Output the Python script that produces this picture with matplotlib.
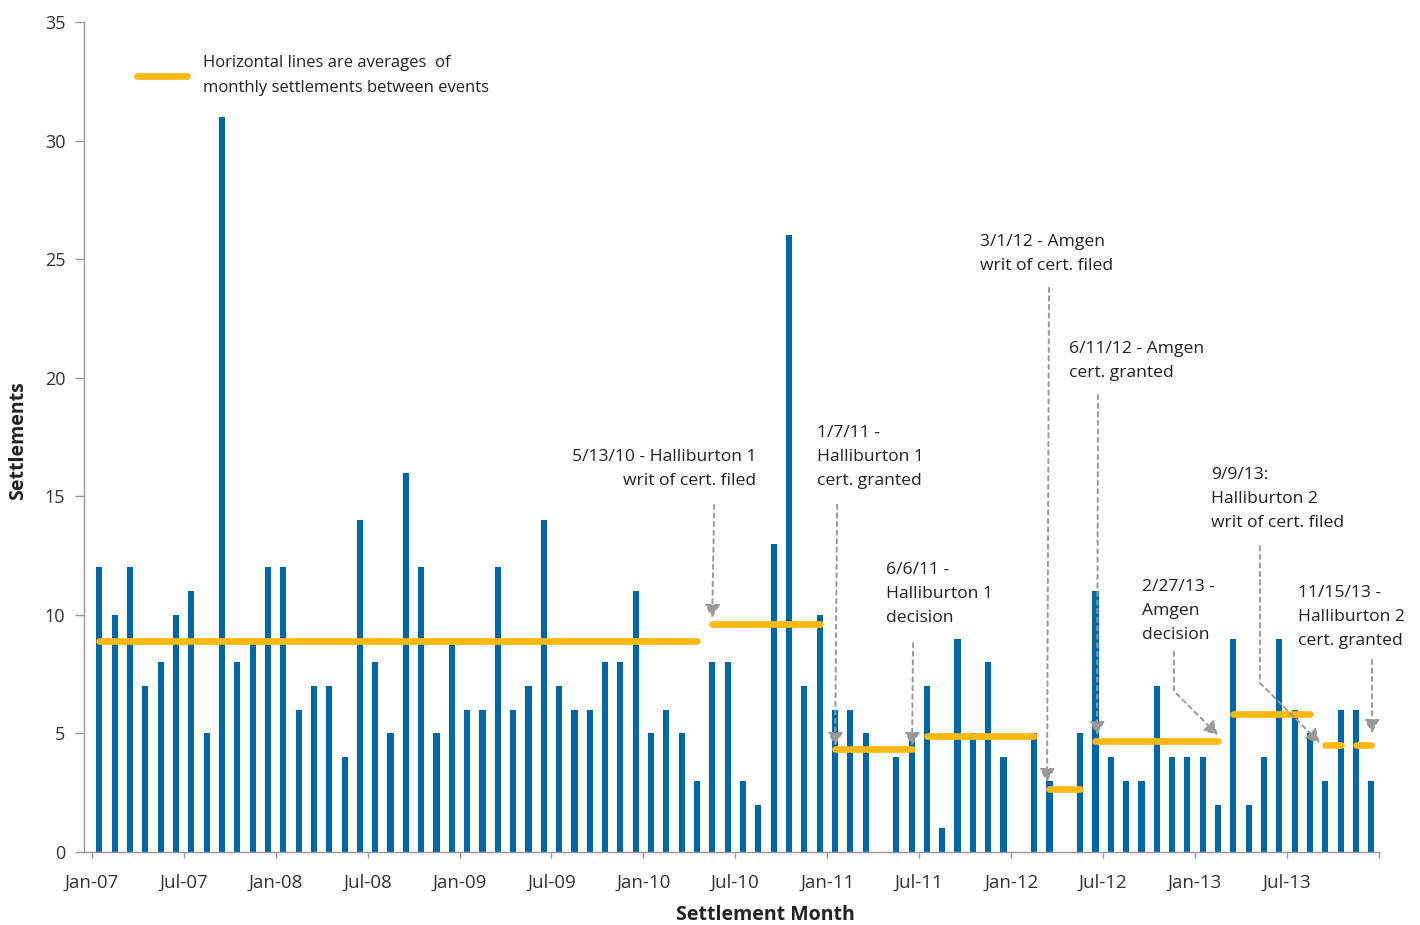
import numpy as np
import matplotlib.pyplot as plt
from matplotlib.lines import Line2D

plt.rcParams['font.family'] = ['Open Sans', 'DejaVu Sans']

# Monthly settlements, Jan-07 .. Dec-13
settlements = [12, 10, 12, 7, 8, 10, 11, 5, 31, 8, 9, 12,
               12, 6, 7, 7, 4, 14, 8, 5, 16, 12, 5, 9,
               6, 6, 12, 6, 7, 14, 7, 6, 6, 8, 8, 11,
               5, 6, 5, 3, 8, 8, 3, 2, 13, 26, 7, 10,
               6, 6, 5, 0, 4, 5, 7, 1, 9, 5, 8, 4,
               0, 5, 3, 0, 5, 11, 4, 3, 3, 7, 4, 4,
               4, 2, 9, 2, 4, 9, 6, 5, 3, 6, 6, 3]

tick_labels = ['Jan-07', 'Jul-07', 'Jan-08', 'Jul-08', 'Jan-09', 'Jul-09', 'Jan-10',
               'Jul-10', 'Jan-11', 'Jul-11', 'Jan-12', 'Jul-12', 'Jan-13', 'Jul-13']

# periods between events: (first month index, last month index)
periods = [(0, 39), (40, 47), (48, 53), (54, 61), (62, 64),
           (65, 73), (74, 79), (80, 81), (82, 83)]

events = ['5/13/10 - Halliburton 1\nwrit of cert. filed',
          '1/7/11 -\nHalliburton 1\ncert. granted',
          '6/6/11 -\nHalliburton 1\ndecision',
          '3/1/12 - Amgen\nwrit of cert. filed',
          '6/11/12 - Amgen\ncert. granted',
          '2/27/13 -\nAmgen\ndecision',
          '9/9/13:\nHalliburton 2\nwrit of cert. filed',
          '11/15/13 -\nHalliburton 2\ncert. granted']

# layout of the event labels: text (x, y, ha), arrow start, arrow tip, bent?
text_pos = [(42.86, 16.15, 'right'), (46.84, 16.66, 'left'), (51.34, 10.88, 'left'),
            (57.47, 25.22, 'left'), (63.27, 20.71, 'left'), (68.04, 10.16, 'left'),
            (72.54, 14.89, 'left'), (78.21, 9.91, 'left')]
arrow_from = [(40.12, 14.64), (48.14, 14.64), (53.1, 8.81), (61.97, 23.79),
              (65.17, 19.27), (70.12, 8.44), (75.73, 12.9), (83.04, 8.1)]
arrow_to = [(39.99, 9.87), (48.01, 4.47), (53.03, 4.47), (61.84, 2.95),
            (65.1, 4.93), (72.99, 4.93), (79.65, 4.6), (83.04, 5.02)]
bent = [False, False, False, False, False, True, True, False]

blue = '#0067A9'
gold = '#FDB913'
grey = '#999999'
txt = '#222222'

x = np.arange(len(settlements))

fig = plt.figure(figsize=(14.2, 9.25), dpi=100)
ax = fig.add_axes([0.0592, 0.0789, 0.9119, 0.8973])

ax.bar(x, settlements, width=0.4, color=blue, zorder=2)

vals = np.array(settlements, dtype=float)
for a, b in periods:
    avg = vals[a:b + 1].mean()
    ax.plot([a, b], [avg, avg], color=gold, lw=4.8, solid_capstyle='round', zorder=3)

for label, (tx, ty, ha), p0, p1, bend in zip(events, text_pos, arrow_from, arrow_to, bent):
    ax.text(tx, ty, label, ha=ha, va='center', fontsize=12.6, color=txt,
            linespacing=1.65, zorder=5)
    cs = 'angle,angleA=90,angleB=135,rad=0' if bend else 'arc3'
    ax.annotate('', xy=p1, xytext=p0,
                arrowprops=dict(arrowstyle='-|>,head_length=0.8,head_width=0.45',
                                color=grey, lw=1.4, ls=(0, (2.2, 2.2)),
                                shrinkA=0, shrinkB=0, connectionstyle=cs),
                zorder=4)

ax.set_xlim(-1, 83.5)
ax.set_ylim(0, 35)
ax.set_yticks(np.arange(0, 36, 5))
ax.set_xticks(np.arange(-0.5, 84, 6))
ax.set_xticklabels(tick_labels + [''])

for s in ['top', 'right']:
    ax.spines[s].set_visible(False)
for s in ['left', 'bottom']:
    ax.spines[s].set_color(grey)
    ax.spines[s].set_linewidth(1.0)
ax.tick_params(axis='y', length=6.5, width=1, color=grey, pad=7, labelsize=13, labelcolor='#333333')
ax.tick_params(axis='x', length=4, width=1, color=grey, pad=12, labelsize=13.5, labelcolor='#333333')

ax.set_xlabel('Settlement Month', fontsize=14, fontweight='bold', color=txt)
ax.xaxis.set_label_coords(0.526, -0.064)
ax.set_ylabel('Settlements', fontsize=14, fontweight='bold', color=txt)
ax.yaxis.set_label_coords(-0.043, 0.496)

handle = Line2D([0], [0], color=gold, lw=4.8, solid_capstyle='round')
leg = ax.legend([handle], ['Horizontal lines are averages  of\nmonthly settlements between events'],
                loc='upper left', bbox_to_anchor=(0.041, 0.960), frameon=False,
                fontsize=12, handlelength=3.0, handletextpad=0.95, borderpad=0,
                borderaxespad=0, labelcolor=txt)
leg.get_texts()[0].set_linespacing(1.7)

fig.savefig('out.png', dpi=100)
